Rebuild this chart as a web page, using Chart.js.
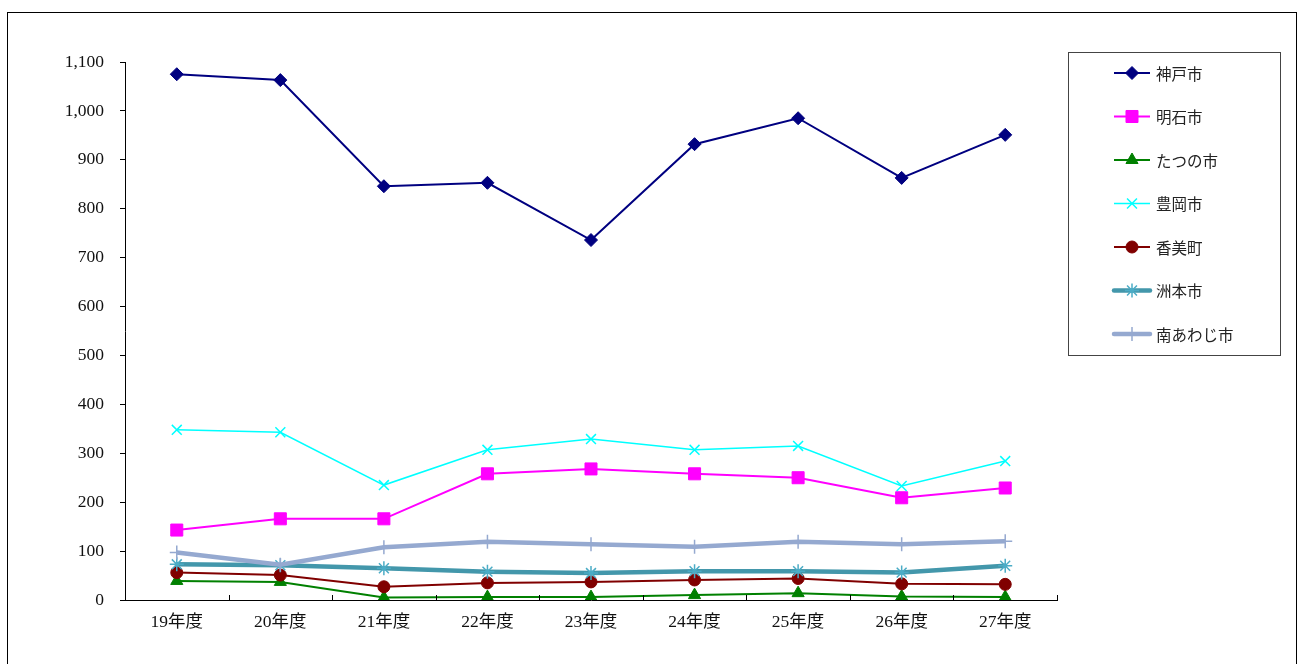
<!DOCTYPE html>
<html><head><meta charset="utf-8">
<script src="https://cdn.jsdelivr.net/npm/chart.js@4/dist/chart.umd.min.js"></script>
<style>html,body{margin:0;padding:0;background:#fff}#wrap{width:1299px;height:664px;position:relative}</style>
</head><body><div id="wrap"><canvas id="c" width="1299" height="664"></canvas></div>
<script>
const categories = ['19年度','20年度','21年度','22年度','23年度','24年度','25年度','26年度','27年度'];
const kobe = [1075,1063,846,853,736,932,985,863,951];
const akashi = [143,166,166,258,268,258,250,209,229];
const tatsuno = [39,37,5,6,6,10,14,7,6];
const toyooka = [348,343,235,307,329,307,315,233,284];
const kami = [56,51,27,35,37,41,44,33,32];
const sumoto = [73,71,65,58,55,59,59,56,70];
const minamiawaji = [97,72,108,119,114,109,119,114,120];
const yTicks = [0,100,200,300,400,500,600,700,800,900,1000,1100];

const serif = "'Liberation Serif','Noto Sans CJK JP',serif";
const sans = "'Noto Sans CJK JP','Noto Sans',sans-serif";

function ds(label, data, color, lw, style, radius, pointColor, bw, idx) {
  return { label, data, borderColor: color, backgroundColor: pointColor || color,
    pointBorderColor: pointColor || color, pointBackgroundColor: pointColor || color,
    borderWidth: lw, pointStyle: style, pointRadius: radius, pointHoverRadius: radius,
    pointBorderWidth: bw, tension: 0, order: 7 - idx };
}

const datasets = [
  ds('神戸市', kobe, '#000080', 2, 'rectRot', 6.5, null, 1, 0),
  ds('明石市', akashi, '#FF00FF', 2, 'rect', 8.5, null, 1, 1),
  ds('たつの市', tatsuno, '#008000', 2, 'triangle', 7, null, 1, 2),
  ds('豊岡市', toyooka, '#00FFFF', 1.5, 'crossRot', 7, null, 1.5, 3),
  ds('香美町', kami, '#800000', 2, 'circle', 6, null, 1, 4),
  ds('洲本市', sumoto, '#4397AB', 4.5, 'star', 7, '#4BACC6', 1.5, 5),
  ds('南あわじ市', minamiawaji, '#95A9D0', 4.5, 'cross', 7, '#95A9D0', 1.5, 6)
];

const deco = {
  id: 'deco',
  beforeDraw(chart) {
    const ctx = chart.ctx;
    ctx.save();
    ctx.fillStyle = '#fff';
    ctx.fillRect(0, 0, chart.width, chart.height);
    ctx.strokeStyle = '#000';
    ctx.lineWidth = 1;
    ctx.strokeRect(7.5, 12.5, 1289, 700);
    ctx.restore();
  },
  afterDraw(chart) {
    const ctx = chart.ctx;
    const xs = chart.scales.x, a = chart.chartArea;
    ctx.save();
    ctx.strokeStyle = '#000';
    ctx.lineWidth = 1;
    ctx.beginPath();
    for (let i = 0; i <= categories.length; i++) {
      const px = Math.round(xs.getPixelForValue(i - 0.5)) + 0.5;
      ctx.moveTo(px, a.bottom);
      ctx.lineTo(px, a.bottom - 5);
    }
    ctx.stroke();
    ctx.strokeStyle = '#444';
    ctx.strokeRect(1068.5, 52.5, 212, 303);
    chart.data.datasets.forEach((d, i) => {
      const y = 73 + i * 43.5;
      ctx.save();
      ctx.strokeStyle = d.borderColor;
      ctx.lineWidth = d.borderWidth;
      ctx.lineCap = d.borderWidth > 3 ? 'round' : 'butt';
      ctx.beginPath();
      ctx.moveTo(1114, y); ctx.lineTo(1150, y);
      ctx.stroke();
      ctx.lineCap = 'butt';
      ctx.strokeStyle = d.pointBorderColor;
      ctx.fillStyle = d.pointBackgroundColor;
      ctx.lineWidth = d.pointBorderWidth;
      Chart.helpers.drawPoint(ctx, {pointStyle: d.pointStyle, rotation: 0, radius: d.pointRadius, borderWidth: d.pointBorderWidth}, 1132, y);
      ctx.restore();
      ctx.fillStyle = '#222';
      ctx.font = "15.5px " + sans;
      ctx.textBaseline = 'middle';
      ctx.textAlign = 'left';
      ctx.fillText(d.label, 1156, y + 1);
    });
    ctx.restore();
  }
};

new Chart(document.getElementById('c'), {
  type: 'line',
  data: { labels: categories, datasets },
  options: {
    responsive: false,
    animation: false,
    devicePixelRatio: 1,
    layout: { padding: { left: 0, right: 242, top: 62, bottom: 0 } },
    plugins: { legend: { display: false }, tooltip: { enabled: false } },
    scales: {
      x: {
        offset: true,
        grid: { display: false, drawTicks: false },
        border: { display: true, color: '#000', width: 1 },
        ticks: { color: '#111', font: { family: serif, size: 17.5 }, padding: 12, maxRotation: 0, autoSkip: false },
        afterFit(s) { s.height = 64; }
      },
      y: {
        min: 0, max: 1100,
        afterBuildTicks(s) { s.ticks = yTicks.map(v => ({ value: v })); },
        grid: { drawOnChartArea: false, drawTicks: true, tickLength: 5, color: '#000' },
        border: { display: true, color: '#000', width: 1 },
        ticks: { color: '#111', font: { family: serif, size: 17.5 }, padding: 16,
          callback: v => v.toLocaleString('en-US') },
        afterFit(s) { s.width = 125; }
      }
    }
  },
  plugins: [deco]
});
</script></body></html>
